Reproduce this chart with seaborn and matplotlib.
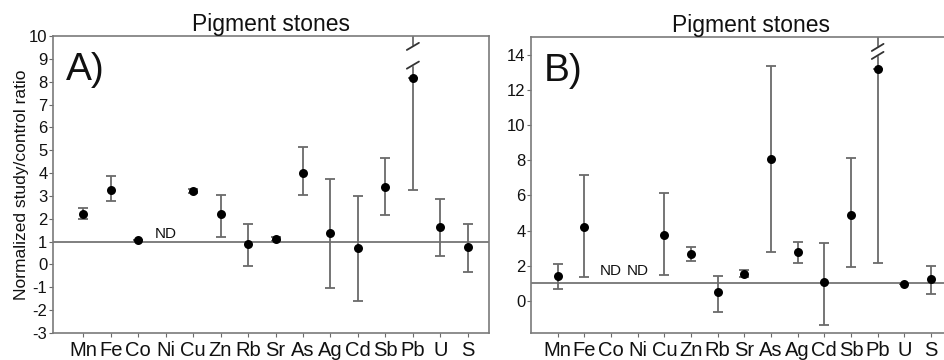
import matplotlib
matplotlib.use("Agg")
import matplotlib.pyplot as plt
import numpy as np
import pandas as pd
import seaborn as sns

elements = ["Mn", "Fe", "Co", "Ni", "Cu", "Zn", "Rb", "Sr", "As", "Ag", "Cd", "Sb", "Pb", "U", "S"]

# panel A: mean ratio and error bar ends (nan = not detected)
a_mean = [2.23, 3.25, 1.09, np.nan, 3.21, 2.19, 0.91, 1.12, 4.01, 1.38, 0.74, 3.37, 8.14, 1.64, 0.77]
a_low = [1.97, 2.78, 1.09, np.nan, 3.11, 1.21, -0.05, 1.02, 3.05, -1.01, -1.60, 2.17, 3.28, 0.36, -0.33]
a_high = [2.49, 3.87, 1.09, np.nan, 3.31, 3.02, 1.76, 1.22, 5.15, 3.72, 2.99, 4.68, 10.5, 2.87, 1.76]
a_nd = ["Ni"]

# panel B
b_mean = [1.40, 4.21, np.nan, np.nan, 3.77, 2.69, 0.49, 1.55, 8.07, 2.80, 1.06, 4.91, 13.2, 0.99, 1.27]
b_low = [0.68, 1.36, np.nan, np.nan, 1.48, 2.27, -0.61, 1.36, 2.78, 2.14, -1.38, 1.93, 2.16, 0.99, 0.38]
b_high = [2.12, 7.14, np.nan, np.nan, 6.16, 3.07, 1.44, 1.78, 13.36, 3.33, 3.30, 8.11, 16.0, 0.99, 1.99]
b_nd = ["Co", "Ni"]

broken = "Pb"

sns.set_style("ticks")
plt.rcParams["font.family"] = ["Liberation Sans", "DejaVu Sans"]
plt.rcParams["axes.unicode_minus"] = False

GREY = "#6a6a6a"
INK = "#111111"


def draw_panel(ax, mean, low, high, nd, ylim, xlim, yticks, letter, nd_y):
    df = pd.DataFrame({"element": elements, "mean": mean, "low": low, "high": high})
    df["x"] = np.arange(len(elements))
    ok = df.dropna()
    brk = ok["element"] == broken
    # error bars with caps, except the broken one which runs off the top
    normal = ok[~brk]
    ax.errorbar(normal["x"], normal["mean"],
                yerr=[normal["mean"] - normal["low"], normal["high"] - normal["mean"]],
                fmt="none", ecolor=GREY, elinewidth=1.3, capsize=3.5, capthick=1.3, zorder=2)
    pb = ok[brk]
    ax.errorbar(pb["x"], pb["mean"], yerr=[pb["mean"] - pb["low"], [0] * len(pb)],
                fmt="none", ecolor=GREY, elinewidth=1.3, capsize=3.5, capthick=1.3, zorder=2)
    ax.vlines(pb["x"], pb["mean"], pb["high"], color=GREY, lw=1.3, zorder=2)
    sns.scatterplot(data=ok, x="x", y="mean", color="black", s=42, edgecolor="black",
                    linewidth=0, ax=ax, zorder=3, legend=False)
    ax.axhline(1, color=GREY, lw=1.2, zorder=1)

    # axis break marks on the Pb bar
    xb = float(pb["x"].iloc[0])
    y0, y1 = ylim
    span = y1 - y0
    ymax_pb = float(pb["mean"].iloc[0])
    g_top = y1 - 0.035 * span
    g_bot = ymax_pb + 0.045 * span
    ax.fill_between([xb - 0.15, xb + 0.15], g_bot, g_top, color="white", zorder=2.5)
    for yy in (g_top, g_bot):
        ax.plot([xb - 0.22, xb + 0.22], [yy - 0.012 * span, yy + 0.012 * span],
                color="#333333", lw=1.3, zorder=4)

    for el in nd:
        ax.text(elements.index(el), nd_y, "ND", ha="center", va="center",
                fontsize=11, color=INK)

    ax.set_xlim(*xlim)
    ax.set_ylim(*ylim)
    ax.set_yticks(yticks)
    ax.set_xticks(np.arange(len(elements)))
    ax.set_xticklabels(elements, fontsize=14.5, color=INK)
    ax.tick_params(axis="y", labelsize=12, labelcolor=INK, length=3,
                   color=GREY, pad=1)
    ax.tick_params(axis="x", length=3, color=GREY, pad=3)
    ax.set_xlabel("")
    ax.set_ylabel("")
    for sp in ax.spines.values():
        sp.set_color("#7a7a7a")
        sp.set_linewidth(1.2)
        sp.set_visible(True)
    ax.set_title("Pigment stones", fontsize=16.5, pad=2, color=INK)
    ax.text(0.03, 0.945, letter, transform=ax.transAxes, fontsize=28,
            ha="left", va="top", color=INK)


fig = plt.figure(figsize=(9.44, 3.6), dpi=100)
ax_a = fig.add_axes([0.0561, 0.075, 0.4619, 0.825])
ax_b = fig.add_axes([0.5625, 0.075, 0.4661, 0.822])

draw_panel(ax_a, a_mean, a_low, a_high, a_nd, (-3, 10), (-1.1, 14.77),
           np.arange(-3, 11), "A)", 1.35)
draw_panel(ax_b, b_mean, b_low, b_high, b_nd, (-1.82, 15.0), (-1.0, 15.5),
           np.arange(0, 15, 2), "B)", 1.7)

ax_a.set_ylabel("Normalized study/control ratio", fontsize=12.5, color=INK, labelpad=0)

fig.savefig("out.png", dpi=100)
